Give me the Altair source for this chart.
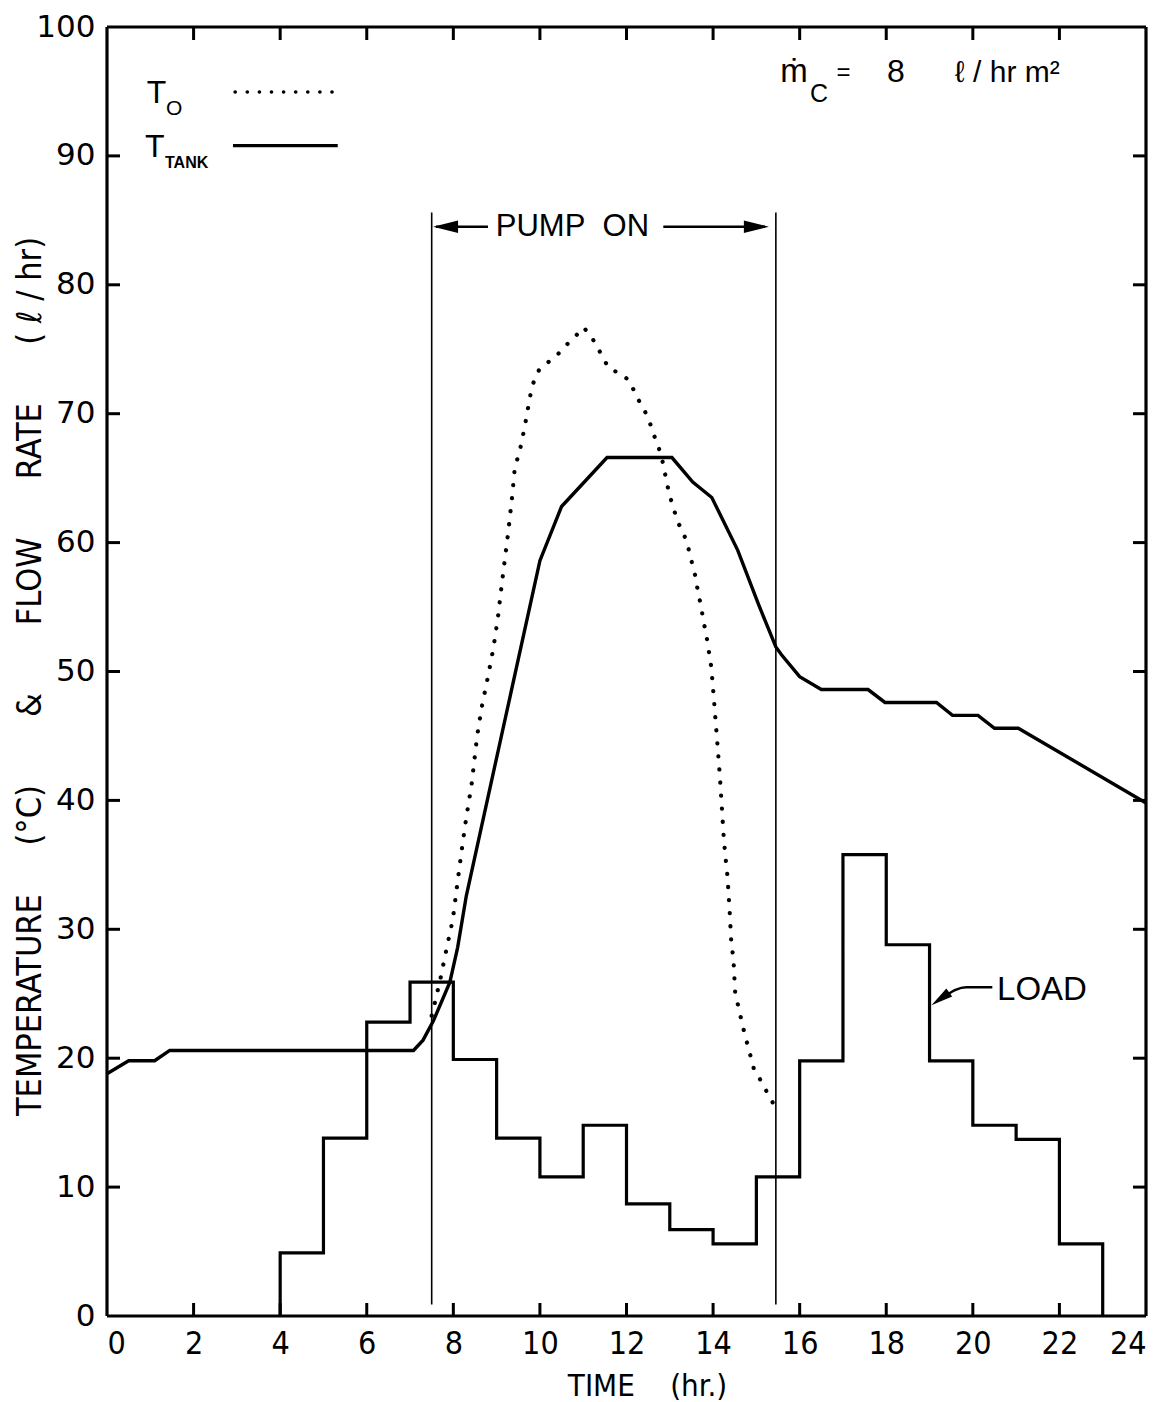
import altair as alt
import pandas as pd

# ---------------- data ----------------
tank_hours = [0, 0.5, 1.1, 1.45, 7.08, 7.3, 7.54, 7.92, 8.1, 8.3, 10.0, 10.5, 11.55,
              13.05, 13.53, 13.97, 14.57, 15.05, 15.45, 15.58, 16.0, 16.5, 16.93, 17.58,
              17.97, 19.16, 19.53, 20.12, 20.5, 21.05, 24.0]
tank_temps = [18.8, 19.8, 19.8, 20.6, 20.6, 21.4, 22.9, 25.9, 28.6, 32.6, 58.6, 62.8, 66.6,
              66.6, 64.7, 63.5, 59.4, 55.2, 51.9, 51.3, 49.6, 48.6, 48.6, 48.6,
              47.6, 47.6, 46.6, 46.6, 45.6, 45.6, 39.8]

to_hours = [7.5, 7.58, 7.71, 7.85, 7.99, 8.11, 8.2, 8.3, 8.42, 8.55, 8.66, 8.8, 8.93, 9.03,
            9.12, 9.26, 9.35, 9.42, 9.54, 9.65, 9.77, 9.85, 9.98, 10.23, 10.44, 10.6, 10.79,
            11.01, 11.2, 11.34, 11.46, 11.6, 11.8, 12.06, 12.17, 12.27, 12.4, 12.56, 12.66,
            12.75, 12.84, 12.94, 13.02, 13.1, 13.2, 13.33, 13.42, 13.5, 13.59, 13.65, 13.72,
            13.78, 13.86, 13.96, 14.03, 14.09, 14.15, 14.2, 14.25, 14.29, 14.33, 14.38, 14.42,
            14.47, 14.51, 14.61, 14.72, 14.84, 14.94, 15.13, 15.3, 15.44]
to_temps = [23.3, 24.4, 26.3, 28.6, 30.8, 34.0, 36.3, 38.7, 41.2, 45.0, 47.3, 49.6, 51.9, 54.2,
            56.8, 60.6, 63.3, 65.8, 67.2, 69.0, 71.3, 72.4, 73.4, 74.1, 74.7, 75.3, 75.9,
            76.7, 75.9, 75.1, 74.3, 73.5, 73.2, 72.6, 71.8, 71.1, 70.4, 69.1, 68.1,
            67.3, 66.2, 64.5, 63.4, 62.5, 61.5, 60.6, 59.7, 58.6, 57.4, 56.2, 55.1,
            53.9, 52.5, 50.3, 47.4, 44.8, 42.2, 39.6, 36.9, 35.5, 34.2, 31.6, 29.0,
            27.7, 25.1, 23.6, 22.0, 20.5, 19.2, 18.1, 17.0, 16.2]

load_start_hours = [4, 5, 6, 7, 8, 9, 10, 11, 12, 13, 14, 15, 16, 17, 18, 19, 20, 21, 22]
load_values = [4.9, 13.8, 22.8, 25.9, 19.9, 13.8, 10.8, 14.8, 8.7, 6.7, 5.6, 10.8,
               19.8, 35.8, 28.8, 19.8, 14.8, 13.7, 5.6]
load_end_hour = 23

pump_on_hour = 7.5
pump_off_hour = 15.45

x_tick_labels = list(range(0, 25, 2))
y_tick_labels = list(range(0, 101, 10))

# ---------------- layout / style ----------------
W, H = 1039, 1289
FONT = "Liberation Sans, DejaVu Sans"
NARROW = "Liberation Sans Narrow, DejaVu Sans Condensed, Liberation Sans"
NB = "\u00a0"

xs = alt.Scale(domain=[0, 24], nice=False, zero=False)
ys = alt.Scale(domain=[0, 100], nice=False, zero=False)

x_axis = alt.Axis(values=x_tick_labels, format="d", ticks=False, domain=False, grid=False,
                  labelFontSize=32, labelFont=NARROW, labelColor="black", labelPadding=12,
                  title="TIME" + NB * 4 + "(hr.)", titleFont=NARROW, titleFontSize=31,
                  titleFontWeight="normal", titleColor="black", titleX=540, titleY=70,
                  titleAlign="center", titleBaseline="middle")
y_axis = alt.Axis(values=y_tick_labels, format="d", ticks=False, domain=False, grid=False,
                  labelFontSize=31, labelFont="DejaVu Sans", labelColor="black", labelPadding=12,
                  title=("TEMPERATURE" + NB * 5 + "(°C)" + NB * 7 + "&" + NB * 7 + "FLOW" + NB * 6
                         + "RATE" + NB * 6 + "(" + NB + "ℓ" + NB + "/" + NB + "hr)"),
                  titleFont=NARROW, titleFontSize=34, titleFontWeight="normal",
                  titleColor="black", titleAngle=270, titleX=-77, titleY=649,
                  titleAlign="center", titleBaseline="middle")


def X(f="x"):
    return alt.X(f"{f}:Q", scale=xs, axis=x_axis)


def Y(f="y"):
    return alt.Y(f"{f}:Q", scale=ys, axis=y_axis)


# ---------------- tables ----------------
tank_df = pd.DataFrame({"x": tank_hours, "y": tank_temps})
to_df = pd.DataFrame({"x": to_hours, "y": to_temps})

lx = [load_start_hours[0]] + load_start_hours + [load_end_hour]
ly = [0] + load_values + [0]
load_df = pd.DataFrame({"x": lx, "y": ly, "i": list(range(len(lx)))})

pump_df = pd.DataFrame({"x": [pump_on_hour, pump_off_hour], "y": [0.9, 0.9], "y2": [85.6, 85.6]})

# ---------------- marks ----------------
tank = alt.Chart(tank_df).mark_line(color="black", strokeWidth=3.4).encode(x=X(), y=Y())
to = alt.Chart(to_df).mark_line(color="black", strokeWidth=4.2, strokeDash=[0.1, 13],
                                strokeCap="round").encode(x=X(), y=Y())
load = alt.Chart(load_df).mark_line(color="black", strokeWidth=3.2, interpolate="step-after").encode(
    x=X(), y=Y(), order=alt.Order("i:Q"))
pump = alt.Chart(pump_df).mark_rule(color="black", strokeWidth=1.6).encode(
    x=X(), y=Y(), y2=alt.Y2("y2:Q"))

# inward ticks on all four sides, and the frame
inner_x = x_tick_labels[1:-1]
inner_y = y_tick_labels[1:-1]
tx = pd.DataFrame({"x": inner_x})
ty = pd.DataFrame({"y": inner_y})
TL = 13
tick_b = alt.Chart(tx).mark_rule(color="black", strokeWidth=3).encode(
    x=X(), y=alt.value(H), y2=alt.value(H - TL))
tick_t = alt.Chart(tx).mark_rule(color="black", strokeWidth=3).encode(
    x=X(), y=alt.value(0), y2=alt.value(TL))
tick_l = alt.Chart(ty).mark_rule(color="black", strokeWidth=3).encode(
    y=Y(), x=alt.value(0), x2=alt.value(TL))
tick_r = alt.Chart(ty).mark_rule(color="black", strokeWidth=3).encode(
    y=Y(), x=alt.value(W), x2=alt.value(W - TL))

corner = pd.DataFrame({"x": [0, 24], "y": [0, 100]})
frame_parts = [
    alt.Chart(corner).mark_rule(color="black", strokeWidth=3.2).encode(
        x=X(), y=alt.value(0), y2=alt.value(H)),
    alt.Chart(corner).mark_rule(color="black", strokeWidth=3.2).encode(
        y=Y(), x=alt.value(0), x2=alt.value(W)),
]


def seg(x1, x2, y1, y2, width=2.6, dash=None):
    d = pd.DataFrame({"x": [x1], "x2": [x2], "y": [y1], "y2": [y2]})
    kw = dict(color="black", strokeWidth=width)
    if dash:
        kw.update(strokeDash=dash, strokeCap="round")
    return alt.Chart(d).mark_rule(**kw).encode(x=X(), x2=alt.X2("x2:Q"), y=Y(), y2=alt.Y2("y2:Q"))


def note(txt, x, y, size, align="left", baseline="alphabetic", font=FONT, weight="normal"):
    d = pd.DataFrame({"x": [x], "y": [y]})
    return alt.Chart(d).mark_text(text=txt, fontSize=size, font=font, align=align,
                                  baseline=baseline, fontWeight=weight, color="black").encode(
        x=X(), y=Y())


def head(x, y, path, size, angle=0):
    d = pd.DataFrame({"x": [x], "y": [y]})
    return alt.Chart(d).mark_point(shape=path, filled=True, size=size, angle=angle,
                                   color="black", opacity=1, strokeWidth=0).encode(x=X(), y=Y())


RIGHT = "M 1 0 L -1 -0.5 L -1 0.5 Z"
LEFT = "M -1 0 L 1 -0.5 L 1 0.5 Z"
ARROW_R = "M 1 0 L -1 -0.45 L -1 0.45 Z"

# PUMP ON annotation
pump_y = 84.5
pump_parts = [
    seg(7.6, 8.8, pump_y, pump_y, 2.4),
    seg(12.85, 15.2, pump_y, pump_y, 2.4),
    head(7.82, pump_y, LEFT, 625),
    head(15.0, pump_y, RIGHT, 625),
    note("PUMP" + NB * 2 + "ON", 10.75, pump_y, 31, align="center", baseline="middle"),
]

# legend (upper left)
legend_parts = [
    note("T", 0.92, 94.1, 32),
    note("O", 1.36, 93.2, 21),
    seg(2.96, 5.43, 94.96, 94.96, 3.6, dash=[0.1, 12]),
    note("T", 0.88, 89.9, 32),
    note("TANK", 1.34, 89.1, 16, weight="bold"),
    seg(2.91, 5.33, 90.8, 90.8, 3.2),
]

# flow-rate note (upper right)
flow_parts = [
    note("ṁ", 15.55, 95.7, 33),
    note("C", 16.24, 94.2, 25),
    note("=", 16.85, 95.9, 24),
    note("8", 18.02, 95.7, 32),
    note("ℓ / hr m²", 19.59, 95.7, 30),
]

# LOAD label with leader arrow
leader_df = pd.DataFrame({"x": [20.45, 19.85, 19.6, 19.4], "y": [25.5, 25.5, 25.3, 24.9],
                          "i": [0, 1, 2, 3]})
leader = alt.Chart(leader_df).mark_line(color="black", strokeWidth=2.6, interpolate="monotone").encode(
    x=X(), y=Y(), order=alt.Order("i:Q"))
load_parts = [
    leader,
    head(19.25, 24.6, ARROW_R, 484, angle=144),
    note("LOAD", 20.56, 24.5, 33),
]

chart = alt.layer(
    load, tank, to, pump,
    tick_b, tick_t, tick_l, tick_r, *frame_parts,
    *pump_parts, *legend_parts, *flow_parts, *load_parts,
).properties(
    width=W, height=H,
    autosize=alt.AutoSizeParams(type="none"),
    padding={"left": 107, "top": 27, "right": 21, "bottom": 86},
).configure_view(
    stroke="black", strokeWidth=3
).configure(background="white")

chart.save("out.html", embed_options={"renderer": "svg", "actions": False})
